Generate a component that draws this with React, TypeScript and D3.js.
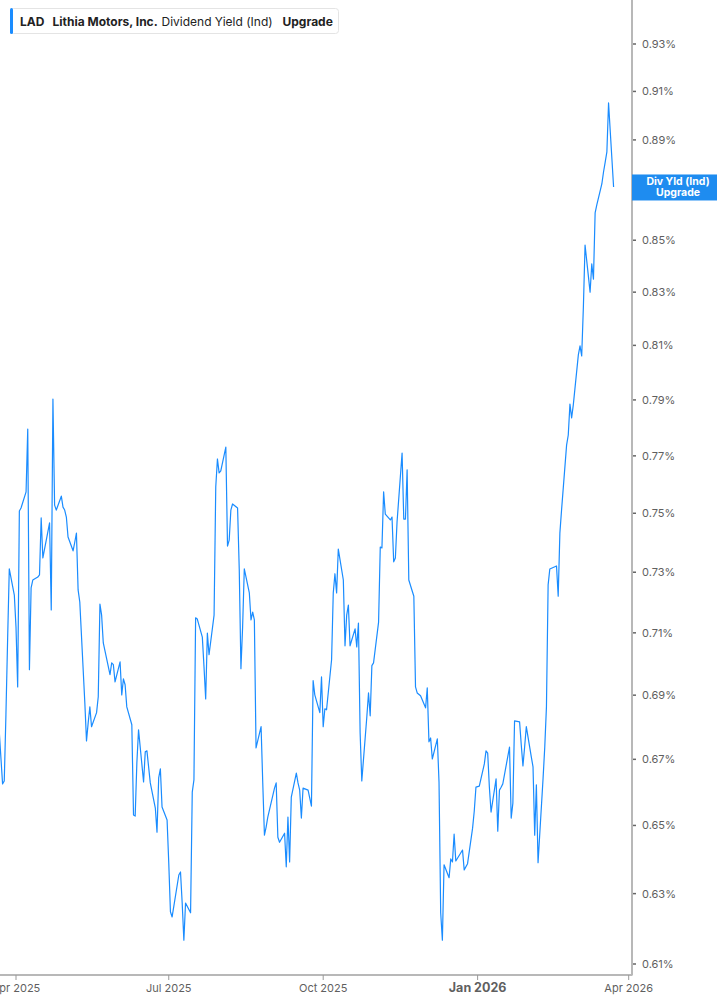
import React from "react";
import * as d3 from "d3";

// Dividend yield (%) per trading day, starting 2025-03-21
const yieldValues: number[] = [
  0.6870, 0.6625, 0.6634, 0.6838, 0.7077, 0.7311, 0.7224, 0.7119, 0.6926, 0.7508,
  0.7518, 0.7574, 0.7795, 0.6981, 0.7248, 0.7274, 0.7284, 0.7291, 0.7484, 0.7348,
  0.7467, 0.7175, 0.7903, 0.7528, 0.7511, 0.7559, 0.7521, 0.7511, 0.7487, 0.7419,
  0.7372, 0.7401, 0.7432, 0.7241, 0.7201, 0.6876, 0.6757, 0.6813, 0.6863, 0.6801,
  0.6845, 0.6895, 0.7194, 0.7158, 0.7067, 0.6965, 0.7003, 0.6997, 0.6942, 0.7006,
  0.6901, 0.6952, 0.6933, 0.6863, 0.6807, 0.6531, 0.6528, 0.6689, 0.6791, 0.6631,
  0.6723, 0.6726, 0.6628, 0.6552, 0.6480, 0.6643, 0.6671, 0.6555, 0.6516, 0.6390,
  0.6248, 0.6233, 0.6354, 0.6363, 0.6273, 0.6167, 0.6273, 0.6245, 0.6600, 0.6637,
  0.7149, 0.7145, 0.7086, 0.6990, 0.6888, 0.7099, 0.7029, 0.7158, 0.7591, 0.7689,
  0.7640, 0.7647, 0.7731, 0.7388, 0.7408, 0.7511, 0.7532, 0.7518, 0.7308, 0.6984,
  0.7119, 0.7311, 0.7231, 0.7142, 0.7168, 0.7142, 0.6735, 0.6801, 0.6628, 0.6471,
  0.6495, 0.6525, 0.6612, 0.6628, 0.6465, 0.6450, 0.6477, 0.6378, 0.6525, 0.6392,
  0.6585, 0.6658, 0.6628, 0.6606, 0.6522, 0.6612, 0.6606, 0.6582, 0.6558, 0.6946,
  0.6901, 0.6845, 0.6958, 0.6801, 0.6857, 0.6854, 0.7013, 0.7231, 0.7295, 0.7231,
  0.7378, 0.7274, 0.7058, 0.7158, 0.7191, 0.7058, 0.7113, 0.7054, 0.7132, 0.6782,
  0.6634, 0.6832, 0.6907, 0.6835, 0.6994, 0.7003, 0.7135, 0.7385, 0.7382, 0.7574,
  0.7497, 0.7477, 0.7487, 0.7335, 0.7348, 0.7470, 0.7710, 0.7480, 0.7480, 0.7651,
  0.7274, 0.7220, 0.6926, 0.6907, 0.6898, 0.6860, 0.6923, 0.6754, 0.6766, 0.6701,
  0.6763, 0.6631, 0.6245, 0.6167, 0.6384, 0.6346, 0.6401, 0.6392, 0.6474, 0.6395,
  0.6419, 0.6427, 0.6369, 0.6387, 0.6492, 0.6543, 0.6615, 0.6618, 0.6686, 0.6726,
  0.6719, 0.6615, 0.6540, 0.6640, 0.6483, 0.6606, 0.6615, 0.6625, 0.6738, 0.6522,
  0.6567, 0.6819, 0.6816, 0.6744, 0.6680, 0.6738, 0.6801, 0.6707, 0.6677, 0.6471,
  0.6622, 0.6390, 0.6643, 0.6738, 0.6863, 0.7258, 0.7311, 0.7321, 0.7220, 0.7432,
  0.7511, 0.7738, 0.7774, 0.7885, 0.7835, 0.7882, 0.8065, 0.8098, 0.8061, 0.8244,
  0.8481, 0.8300, 0.8408, 0.8350, 0.8607, 0.8639, 0.8722, 0.8770, 0.8810, 0.8851,
  0.9052, 0.8710,
];

const startDate = "2025-03-21";
const marketHolidays: string[] = [
  "2025-04-18", "2025-05-26", "2025-06-19", "2025-07-04", "2025-09-01",
  "2025-11-27", "2025-12-25", "2026-01-01", "2026-01-19", "2026-02-16",
];

const yTickValues: number[] = [0.61, 0.63, 0.65, 0.67, 0.69, 0.71, 0.73, 0.75, 0.77, 0.79, 0.81, 0.83, 0.85, 0.87, 0.89, 0.91, 0.93];
// 0.87% label is hidden behind the last-value box in the reference
const hiddenYLabels: number[] = [0.87];
const xTickDates: string[] = ["2025-04-01", "2025-07-01", "2025-10-01", "2026-01-01", "2026-04-01"];
const xTickLabels: string[] = ["Apr 2025", "Jul 2025", "Oct 2025", "Jan 2026", "Apr 2026"];

const legendParts = [
  { text: "LAD", x: 20, weight: 700 },
  { text: "Lithia Motors, Inc.", x: 52.5, weight: 700 },
  { text: "Dividend Yield (Ind)", x: 161.5, weight: 400 },
  { text: "Upgrade", x: 282.5, weight: 700 },
];

const W = 717;
const H = 1005;
const plotRight = 632;
const plotBottom = 975;
const BLUE = "#1a8cff";
const FONT = "Inter, Roboto, 'Noto Sans', sans-serif";

function tradingDates(n: number): Date[] {
  const hol = new Set(marketHolidays);
  const out: Date[] = [];
  let d = new Date(startDate + "T00:00:00Z");
  while (out.length < n) {
    const wd = d.getUTCDay();
    const iso = d.toISOString().slice(0, 10);
    if (wd !== 0 && wd !== 6 && !hol.has(iso)) out.push(d);
    d = d3.utcDay.offset(d, 1);
  }
  return out;
}

export default function App() {
  const dates = tradingDates(yieldValues.length);
  const data = yieldValues.map((v, i) => ({ date: dates[i], v }));

  const x = d3
    .scaleUtc()
    .domain([new Date("2025-04-01T00:00:00Z"), new Date("2026-04-01T00:00:00Z")])
    .range([16, 628.7]);
  const y = d3.scaleLog().domain([0.61, 0.93]).range([964, 44]);

  const line = d3
    .line<{ date: Date; v: number }>()
    .x((d) => x(d.date))
    .y((d) => y(d.v));

  const last = data[data.length - 1];
  const lastY = y(last.v);

  return (
    <div style={{ position: "absolute", left: 0, top: 0 }}>
      <svg width={W} height={H} style={{ display: "block", background: "#fff" }} fontFamily={FONT}>
        <defs>
          <clipPath id="plot">
            <rect x={0} y={0} width={plotRight} height={plotBottom} />
          </clipPath>
        </defs>

        <path d={line(data) || ""} fill="none" stroke={BLUE} strokeWidth={1.2} strokeLinejoin="round" clipPath="url(#plot)" />

        {/* axes */}
        <line x1={plotRight} x2={plotRight} y1={0} y2={plotBottom + 0.5} stroke="#b8b8b8" strokeWidth={2} />
        <line x1={0} x2={plotRight} y1={plotBottom} y2={plotBottom} stroke="#b8b8b8" strokeWidth={2} />

        {yTickValues.map((t) => (
          <g key={t}>
            <line x1={plotRight + 1} x2={plotRight + 4} y1={y(t)} y2={y(t)} stroke="#666" strokeWidth={1.5} />
            {!hiddenYLabels.includes(t) && (
              <text x={642} y={y(t) + 4} fontSize={11} fill="#5f5f5f">
                {t.toFixed(2) + "%"}
              </text>
            )}
          </g>
        ))}

        {xTickDates.map((ds, i) => {
          const px = x(new Date(ds + "T00:00:00Z"));
          const isYear = xTickLabels[i].startsWith("Jan");
          return (
            <g key={ds}>
              <line x1={px} x2={px} y1={plotBottom} y2={plotBottom + 5} stroke="#999" strokeWidth={1} />
              <text
                x={px}
                y={992}
                fontSize={isYear ? 12.5 : 11}
                fontWeight={isYear ? 700 : 400}
                textAnchor="middle"
                fill="#5f5f5f"
              >
                {xTickLabels[i]}
              </text>
            </g>
          );
        })}

        {/* last value label */}
        <rect x={plotRight} y={lastY - 12.5} width={92} height={26} fill="#1e8cf0" />
        <text x={678} y={lastY - 2} fontSize={10.5} fontWeight={700} fill="#fff" textAnchor="middle">
          Div Yld (Ind)
        </text>
        <text x={678} y={lastY + 9} fontSize={10.5} fontWeight={700} fill="#fff" textAnchor="middle">
          Upgrade
        </text>

        {/* legend */}
        <rect x={10.5} y={8.5} width={328} height={25} rx={3} fill="#fff" stroke="#e4e4e4" />
        <rect x={10} y={8} width={3} height={26} rx={1.5} fill={BLUE} />
        {legendParts.map((p) => (
          <text key={p.text} x={p.x} y={25.5} fontSize={12} fontWeight={p.weight} fill="#222">
            {p.text}
          </text>
        ))}
      </svg>
    </div>
  );
}
